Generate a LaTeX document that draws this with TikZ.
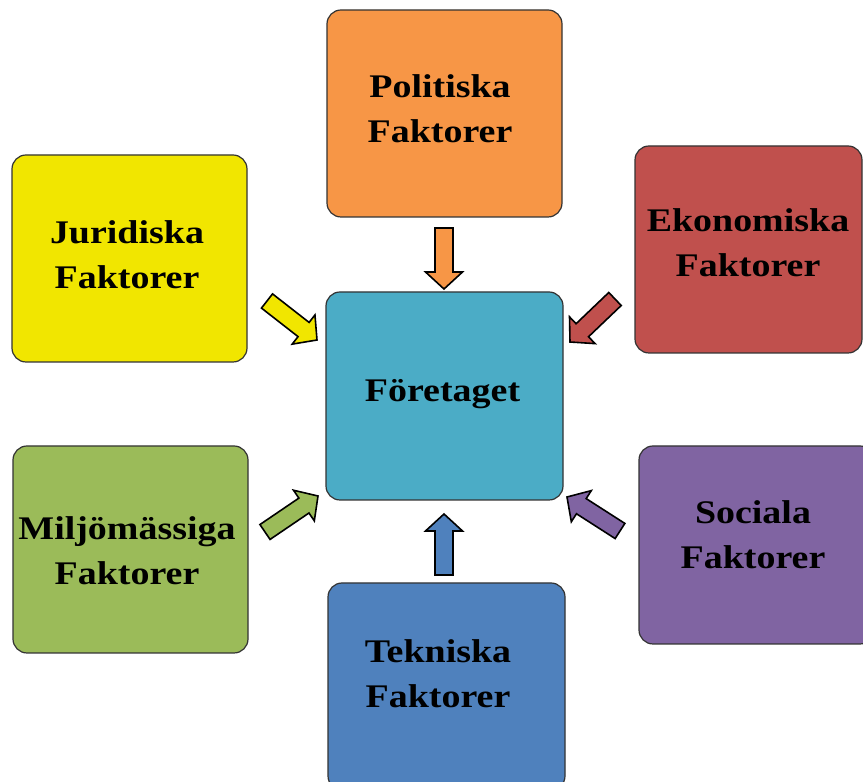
\documentclass[tikz,border=0pt]{standalone}
\usepackage{fontspec}
\newfontfamily\boxfont{Liberation Serif}[FakeStretch=1.15]
\usetikzlibrary{calc}

\definecolor{polcol}{HTML}{F79646}
\definecolor{jurcol}{HTML}{F1E600}
\definecolor{ekocol}{HTML}{C0504D}
\definecolor{forecol}{HTML}{4BACC6}
\definecolor{miljcol}{HTML}{9BBB59}
\definecolor{soccol}{HTML}{8064A2}
\definecolor{tekcol}{HTML}{4F81BD}

\tikzset{
  factor/.style={draw=black!80, line width=1.2pt, rounded corners=14pt, inner sep=0pt,
    minimum width=235pt, minimum height=207pt},
  ftext/.style={font=\boxfont\bfseries\fontsize{33}{45}\selectfont, align=center, inner sep=0pt},
  barrow/.style={draw=black, line width=1.6pt, line join=miter}
}

% block arrow from tail (#1) to tip (#2)
\newcommand\blockarrow[3]{%
  \draw[barrow, fill=#3] let \p1=($(#2)-(#1)$), \n1={atan2(\y1,\x1)}, \n2={veclen(\x1,\y1)} in
    ($(#1)+(\n1+90:9)$) -- ++(\n1:{\n2-17}) -- ++(\n1+90:9.5) -- (#2)
    -- ($(#1)+(\n1-90:18.5)+(\n1:{\n2-17})$) -- ++(\n1+90:9.5)
    -- ($(#1)+(\n1-90:9)$) -- cycle;}

\begin{document}
\begin{tikzpicture}[x=1pt,y=1pt]
\useasboundingbox (0,0) rectangle (863,782);
\clip (0,0) rectangle (863,782);

\node[factor, fill=polcol] (pol) at (444.5,668.5) {};
\node[factor, fill=jurcol] (jur) at (129.5,523.5) {};
\node[factor, fill=ekocol, minimum width=227pt] (eko) at (748.5,532.5) {};
\node[factor, fill=forecol, minimum width=237pt, minimum height=208pt] (fore) at (444.5,386) {};
\node[factor, fill=miljcol] (milj) at (130.5,232.5) {};
\node[factor, fill=soccol, minimum height=198pt] (soc) at (756.5,237) {};
\node[factor, fill=tekcol, minimum width=237pt] (tek) at (446.5,95.5) {};

\node[ftext] (pol-txt) at (440,673.5) {Politiska\\Faktorer};
\node[ftext] (jur-txt) at (127,527) {Juridiska\\Faktorer};
\node[ftext] (eko-txt) at (748,539.5) {Ekonomiska\\Faktorer};
\node[ftext] (fore-txt) at (442.5,388) {Företaget};
\node[ftext] (milj-txt) at (127,231.5) {Miljömässiga\\Faktorer};
\node[ftext] (soc-txt) at (753,247.5) {Sociala\\Faktorer};
\node[ftext] (tek-txt) at (438,108) {Tekniska\\Faktorer};

\coordinate (pol-a) at (444,554);
\coordinate (pol-b) at (444,493);
\coordinate (jur-a) at (267,481);
\coordinate (jur-b) at (317,442);
\coordinate (eko-a) at (615,483);
\coordinate (eko-b) at (570,440);
\coordinate (milj-a) at (265,250);
\coordinate (milj-b) at (318,286);
\coordinate (soc-a) at (620,251);
\coordinate (soc-b) at (567,285);
\coordinate (tek-a) at (444,207);
\coordinate (tek-b) at (444,268);

\blockarrow{pol-a}{pol-b}{polcol}
\blockarrow{jur-a}{jur-b}{jurcol}
\blockarrow{eko-a}{eko-b}{ekocol}
\blockarrow{milj-a}{milj-b}{miljcol}
\blockarrow{soc-a}{soc-b}{soccol}
\blockarrow{tek-a}{tek-b}{tekcol}
\end{tikzpicture}
\end{document}
